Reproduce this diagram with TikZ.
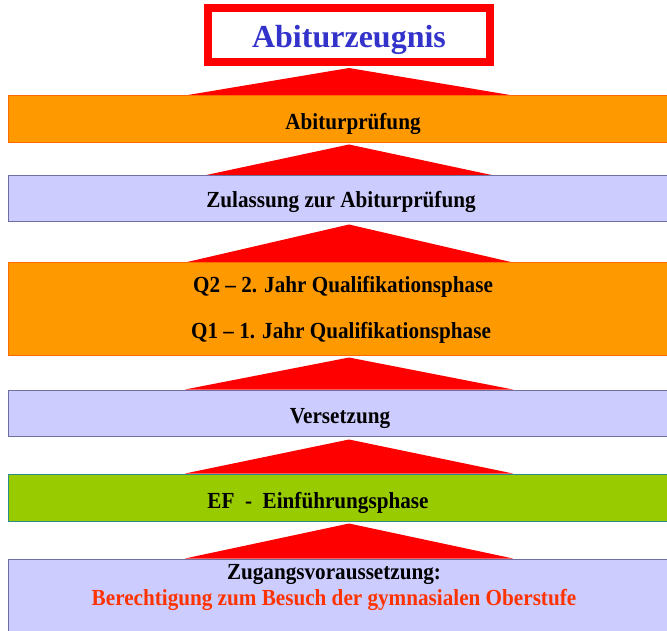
\documentclass[tikz,border=0pt]{standalone}
\usepackage{fontspec}
\setmainfont{Liberation Serif}
\newfontfamily\schmal[FakeStretch=0.92]{Liberation Serif}
\usetikzlibrary{calc}
\usetikzlibrary{positioning}
\pgfdeclarelayer{hinten}
\pgfsetlayers{hinten,main}
\definecolor{orangefill}{HTML}{FF9900}
\definecolor{orangerand}{HTML}{FF6A00}
\definecolor{lilafill}{HTML}{CCCCFF}
\definecolor{lilarand}{HTML}{6F6F9F}
\definecolor{gruenfill}{HTML}{99CC00}
\definecolor{gruenrand}{HTML}{2E8B8B}
\definecolor{titelblau}{HTML}{3333CC}
\definecolor{hinweisrot}{HTML}{FF3300}

\begin{document}
\begin{tikzpicture}[x=1pt,y=-1pt]
\tikzstyle{stufe}=[rectangle, inner sep=0pt, minimum width=682pt, line width=1pt]
\tikzstyle{orangekasten}=[stufe, fill=orangefill, draw=orangerand]
\tikzstyle{lilakasten}=[stufe, fill=lilafill, draw=lilarand]
\tikzstyle{gruenkasten}=[stufe, fill=gruenfill, draw=gruenrand]
\tikzstyle{pfeil}=[fill=red]
\tikzstyle{schrift}=[anchor=base, inner sep=0pt, font=\schmal\bfseries\fontsize{23}{27}\selectfont]
\useasboundingbox (0,0) rectangle (667,631);
\clip (0,0) rectangle (667,631);
% kaesten
\node[rectangle, draw=red, fill=white, line width=8pt, minimum width=282pt, minimum height=54pt, inner sep=0pt] (zeugnis) at (349,35) {};
\node[orangekasten, minimum height=47pt] (pruefung) at (349,119.5) {};
\node[lilakasten, minimum height=46pt] (zulassung) at (349,199) {};
\node[orangekasten, minimum height=92pt] (quali) at (349,309) {};
\node[lilakasten, minimum height=46pt] (versetzung) at (349,413) {};
\node[gruenkasten, minimum height=47pt] (ef) at (349,497.5) {};
\node[lilakasten, minimum height=141pt] (zugang) at (349,629.5) {};
% texte
\node[anchor=base, inner sep=0pt, text=titelblau, font=\bfseries\fontsize{32}{38}\selectfont] (tzeugnis) at (349,48) {Abiturzeugnis};
\node[schrift] (tpruefung) at (353,130) {Abiturprüfung};
\node[schrift] (tzulassung) at (341,208) {Zulassung zur Abiturprüfung};
\node[schrift] (tqzwei) at (343,292) {Q2 – 2. Jahr Qualifikationsphase};
\node[schrift] (tqeins) at (341,338) {Q1 – 1. Jahr Qualifikationsphase};
\node[schrift] (tversetzung) at (340,423) {Versetzung};
\node[schrift] (tef) at (318,508) {EF\ \ -\ \ Einführungsphase};
\node[schrift] (tzugang) at (334,579) {Zugangsvoraussetzung:};
\node[schrift, text=hinweisrot] (tberechtigung) at (334,605) {Berechtigung zum Besuch der gymnasialen Oberstufe};
% pfeile
\begin{pgfonlayer}{hinten}
\fill[pfeil] ($(zeugnis.south)+(0,2)$) -- ($(pruefung.north)+(-164,0)$) -- ($(pruefung.north)+(164,0)$) -- cycle;
\fill[pfeil] ($(pruefung.south)+(0,1)$) -- ($(zulassung.north)+(-145,0)$) -- ($(zulassung.north)+(145,0)$) -- cycle;
\fill[pfeil] ($(zulassung.south)+(0,2)$) -- ($(quali.north)+(-164,0)$) -- ($(quali.north)+(164,0)$) -- cycle;
\fill[pfeil] ($(quali.south)+(0,2)$) -- ($(versetzung.north)+(-164,0)$) -- ($(versetzung.north)+(164,0)$) -- cycle;
\fill[pfeil] ($(versetzung.south)+(0,3)$) -- ($(ef.north)+(-164,0)$) -- ($(ef.north)+(164,0)$) -- cycle;
\fill[pfeil] ($(ef.south)+(0,2)$) -- ($(zugang.north)+(-164,0)$) -- ($(zugang.north)+(164,0)$) -- cycle;
\end{pgfonlayer}
\end{tikzpicture}
\end{document}
